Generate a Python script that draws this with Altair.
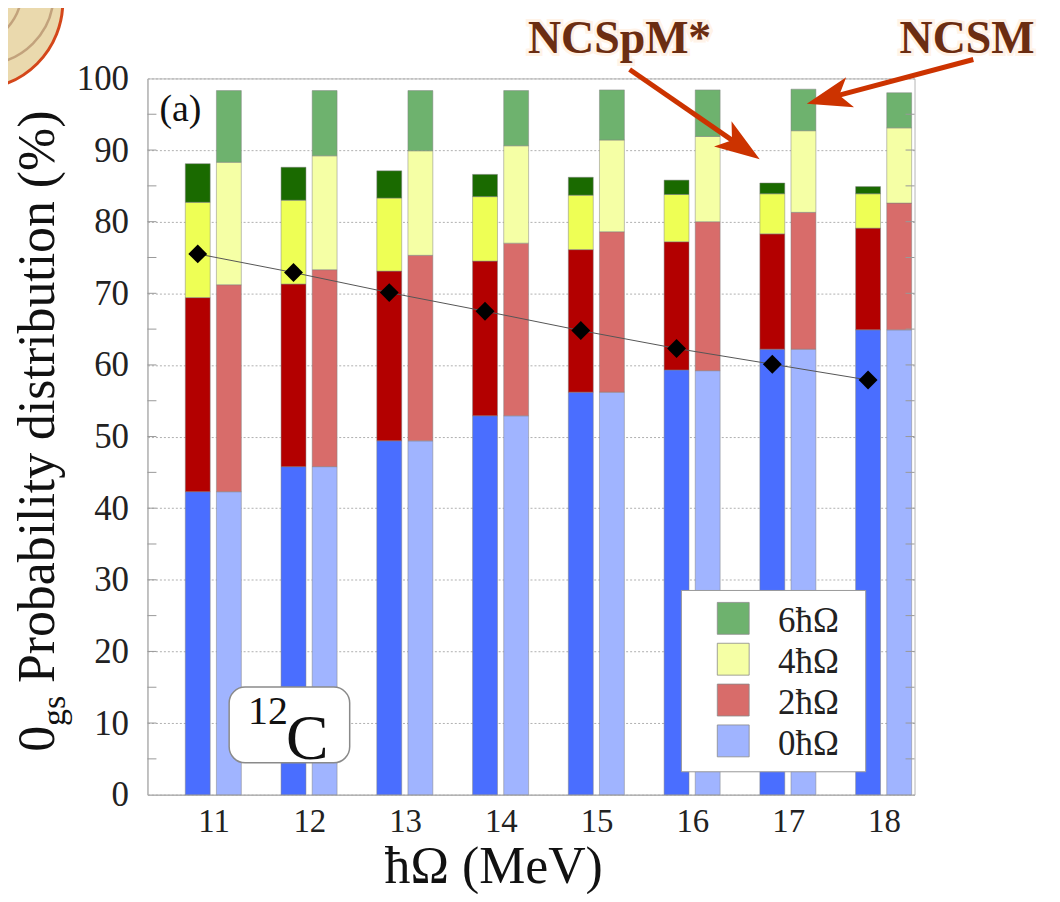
import altair as alt
import pandas as pd

# ---------------- data ----------------
hw_values = [11, 12, 13, 14, 15, 16, 17, 18]
shells = ["0", "2", "4", "6"]

# NCSpM* (dark bars) – percentage per shell
ncspm_0 = [42.3, 45.8, 49.4, 52.9, 56.2, 59.3, 62.2, 64.9]
ncspm_2 = [27.1, 25.5, 23.7, 21.6, 19.9, 17.9, 16.1, 14.2]
ncspm_4 = [13.3, 11.7, 10.2, 9.0, 7.6, 6.6, 5.6, 4.8]
ncspm_6 = [5.4, 4.6, 3.8, 3.1, 2.5, 2.0, 1.5, 1.0]

# NCSM (light bars) – percentage per shell
ncsm_0 = [42.3, 45.8, 49.4, 52.9, 56.2, 59.2, 62.2, 64.9]
ncsm_2 = [28.9, 27.5, 25.9, 24.1, 22.4, 20.8, 19.1, 17.7]
ncsm_4 = [17.1, 15.9, 14.6, 13.6, 12.8, 11.9, 11.4, 10.5]
ncsm_6 = [10.0, 9.1, 8.4, 7.7, 7.0, 6.5, 5.8, 4.9]

# diamonds (connected)
diamond_vals = [75.5, 72.9, 70.1, 67.5, 64.8, 62.3, 60.1, 57.9]

y_ticks = [0, 10, 20, 30, 40, 50, 60, 70, 80, 90, 100]
minor_ticks = [5, 10, 15, 20, 25, 30, 35, 40, 45, 50, 55, 60, 65, 70, 75, 80, 85, 90, 95]

keys = ["NCSpM0", "NCSpM2", "NCSpM4", "NCSpM6", "NCSM0", "NCSM2", "NCSM4", "NCSM6"]
key_colors = ["#4a6eff", "#b30000", "#eeff55", "#1a6a00",
              "#a0b4ff", "#d86c6a", "#f5ffa5", "#6eb26e"]

legend_digits = ["6", "4", "2", "0"]
legend_colors = ["#6eb26e", "#f5ffa5", "#d86c6a", "#a0b4ff"]

SERIF = "Liberation Serif"

# ---------------- tables ----------------
rows = []
series = {
    "NCSpM": [ncspm_0, ncspm_2, ncspm_4, ncspm_6],
    "NCSM": [ncsm_0, ncsm_2, ncsm_4, ncsm_6],
}
for model, lists in series.items():
    for shell, vals in zip(shells, lists):
        for hw, v in zip(hw_values, vals):
            rows.append({"hw": hw, "model": model, "shell": shell, "val": v,
                         "key": model + shell})
df = pd.DataFrame(rows)
df_d = pd.DataFrame({"hw": hw_values, "val": diamond_vals})
df_t = pd.DataFrame({"t": minor_ticks})
one = pd.DataFrame({"a": [0]})

xscale = alt.Scale(domain=[10.31, 18.32], nice=False, zero=False)
yscale = alt.Scale(domain=[0, 100], nice=False)

xaxis = alt.Axis(values=hw_values, format="d", labelFont=SERIF, labelFontSize=33,
                 labelColor="#222", ticks=False, grid=False, domainColor="#aaaaaa",
                 labelPadding=11, title=None)
yaxis = alt.Axis(values=y_ticks, labelFont=SERIF, labelFontSize=35, labelColor="#222",
                 ticks=False, grid=True, gridDash=[2, 2], gridColor="#b0b0b0",
                 domainColor="#aaaaaa", labelPadding=19, title=None)

bars = alt.Chart(df).transform_stack(
    stack="val", as_=["lo", "hi"], groupby=["hw", "model"],
    sort=[alt.SortField("shell", order="ascending")]
).transform_calculate(
    x0="datum.hw + (datum.model == 'NCSpM' ? -0.295 : 0.03)",
    x1="datum.hw + (datum.model == 'NCSpM' ? -0.035 : 0.29)",
).mark_bar(stroke="#808080", strokeWidth=0.7, strokeOpacity=0.7).encode(
    x=alt.X("x0:Q", scale=xscale, axis=xaxis),
    x2="x1:Q",
    y=alt.Y("lo:Q", scale=yscale, axis=yaxis),
    y2="hi:Q",
    color=alt.Color("key:N", scale=alt.Scale(domain=keys, range=key_colors), legend=None),
)

dline = alt.Chart(df_d).transform_calculate(xd="datum.hw - 0.165").mark_line(
    color="#555555", strokeWidth=1).encode(x="xd:Q", y="val:Q")
dpts = alt.Chart(df_d).transform_calculate(xd="datum.hw - 0.165").mark_point(
    shape="diamond", filled=True, color="black", size=360, opacity=1).encode(
    x="xd:Q", y="val:Q")

tick_l = alt.Chart(df_t).mark_rule(color="#999999", strokeWidth=1).encode(
    x=alt.value(0), x2=alt.value(9), y="t:Q")
tick_r = alt.Chart(df_t).mark_rule(color="#999999", strokeWidth=1).encode(
    x=alt.value(761), x2=alt.value(770), y="t:Q")

layers = [bars, dline, dpts, tick_l, tick_r]


def txt(text, x, y, size, **kw):
    return alt.Chart(one).mark_text(text=text, font=SERIF, fontSize=size,
                                    align=kw.pop("align", "left"),
                                    baseline=kw.pop("baseline", "alphabetic"),
                                    **kw).encode(x=alt.value(x), y=alt.value(y))


# (a) label
layers.append(txt("(a)", 12, 43, 38, color="#111"))

# 12C box
layers.append(alt.Chart(one).mark_rect(fill="white", stroke="#8a8a8a", strokeWidth=1.5,
                                       cornerRadius=16).encode(
    x=alt.value(82), x2=alt.value(203), y=alt.value(611), y2=alt.value(687)))
layers.append(txt("12", 101, 648, 40, color="#111"))
layers.append(txt("C", 139, 683, 64, color="#111"))

# legend
layers.append(alt.Chart(one).mark_rect(fill="white", stroke="#999999", strokeWidth=1).encode(
    x=alt.value(536), x2=alt.value(721), y=alt.value(514), y2=alt.value(696)))
for i, (d, c) in enumerate(zip(legend_digits, legend_colors)):
    cy = 542 + 41 * i
    layers.append(alt.Chart(one).mark_point(shape="square", filled=True, fill=c, size=1024,
                                            stroke="#8a8a8a", strokeWidth=0.8, opacity=1).encode(
        x=alt.value(588), y=alt.value(cy)))
    layers.append(txt(d + "ħΩ", 633, cy + 14, 35, color="#222"))

# axis titles
layers.append(txt("ħΩ (MeV)", 238, 808, 52, color="#111"))
layers.append(txt("0", -94, 676, 52, color="#111", angle=270))
layers.append(txt("gs", -83, 650, 34, color="#111", angle=270))
layers.append(txt("Probability distribution (%)", -94, 607, 52, color="#111", angle=270))

# logo (partially visible)
layers.append(alt.Chart(one).mark_point(shape="circle", filled=True, fill="#ead9ad", size=30976,
                                        stroke="#d4471a", strokeWidth=3, opacity=1).encode(
    x=alt.value(-173), y=alt.value(-77)))
for s, sx, sy in [(14000, -185, -90), (7000, -195, -70), (20000, -165, -85), (4000, -175, -100)]:
    layers.append(alt.Chart(one).mark_point(shape="circle", filled=False, size=s,
                                            stroke="#9a6a4a", strokeWidth=2.5,
                                            strokeOpacity=0.7).encode(
        x=alt.value(sx), y=alt.value(sy)))

# annotations with glow
for label, lx in [("NCSpM*", 382), ("NCSM", 755)]:
    layers.append(txt(label, lx, -26, 46, fontWeight="bold", color="#f7a860",
                      stroke="#ffbf80", strokeWidth=6, strokeOpacity=0.35, opacity=0.5))
    layers.append(txt(label, lx, -26, 46, fontWeight="bold", color="#6b2d12"))

# arrows
ARROW = "M0,-1 L0.62,0.8 L0,0.35 L-0.62,0.8 Z"
for (sx, sy, cx, cy, ang) in [(484, -9, 594, 67, 124.5), (829, -19, 686, 19, 255.2)]:
    layers.append(alt.Chart(one).mark_rule(color="#cc3300", strokeWidth=5).encode(
        x=alt.value(sx), x2=alt.value(cx), y=alt.value(sy), y2=alt.value(cy)))
    layers.append(alt.Chart(one).mark_point(shape=ARROW, filled=True, color="#cc3300",
                                            size=2500, angle=ang, opacity=1).encode(
        x=alt.value(cx), y=alt.value(cy)))

chart = alt.layer(*layers).properties(
    width=770, height=719,
    padding={"left": 140, "top": 69, "right": 138, "bottom": 98},
    autosize=alt.AutoSizeParams(type="none"),
).configure_view(stroke="#b5b5b5")

chart.save("out.html", embed_options={"renderer": "svg", "actions": False})
